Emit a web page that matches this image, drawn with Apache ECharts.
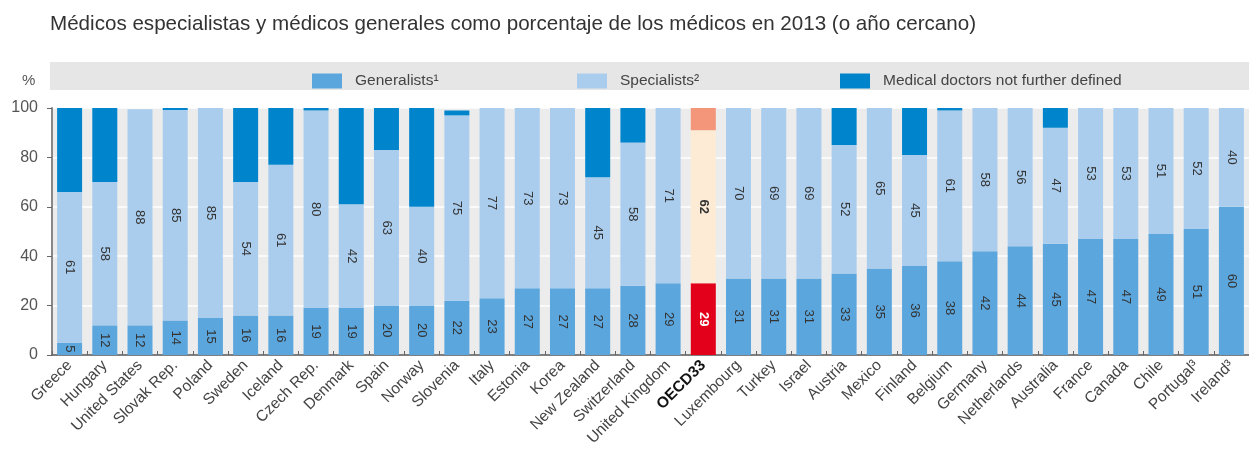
<!DOCTYPE html>
<html lang="es">
<head>
    <meta charset="UTF-8">
    <title>Médicos especialistas y médicos generales</title>
    <script src="https://cdn.jsdelivr.net/npm/echarts@6/dist/echarts.min.js"></script>
    <style>
        body { margin: 0; background: #fff; }
        #chart { width: 1249px; height: 455px; }
    </style>
</head>
<body>
    <div id="chart"></div>
    <script>
        // categorías (países) en el orden del gráfico
        var countries = ['Greece', 'Hungary', 'United States', 'Slovak Rep.', 'Poland', 'Sweden', 'Iceland',
            'Czech Rep.', 'Denmark', 'Spain', 'Norway', 'Slovenia', 'Italy', 'Estonia', 'Korea',
            'New Zealand', 'Switzerland', 'United Kingdom', 'OECD33', 'Luxembourg', 'Turkey', 'Israel',
            'Austria', 'Mexico', 'Finland', 'Belgium', 'Germany', 'Netherlands', 'Australia', 'France',
            'Canada', 'Chile', 'Portugal³', 'Ireland³'];
        // % de generalistas
        var generalists = [5, 12, 12, 14, 15, 16, 16, 19, 19, 20, 20, 22, 23, 27, 27, 27, 28, 29, 29, 31, 31, 31,
            33, 35, 36, 38, 42, 44, 45, 47, 47, 49, 51, 60];
        // % de especialistas
        var specialists = [61, 58, 87.5, 85.2, 85, 54, 61, 80, 42, 63, 40, 75, 77, 73, 73, 45, 58, 71, 62, 70, 69, 69,
            52, 65, 45, 61, 58, 56, 47, 53, 53, 51, 52, 40];
        // % médicos sin otra definición
        var notDefined = [34, 30, 0, 0.8, 0, 30, 23, 1, 39, 17, 40, 2, 0, 0, 0, 28, 14, 0, 9, 0, 0, 0,
            15, 0, 19, 1, 0, 0, 8, 0, 0, 0, 0, 0];
        var yTicks = [0, 20, 40, 60, 80, 100];

        var oecdName = 'OECD33';
        var oecdColors = { g: '#e2001a', s: '#fdebd6', n: '#f4967a' };

        function build(values, key) {
            return values.map(function (v, i) {
                var item = { value: v };
                if (countries[i] === oecdName) {
                    item.itemStyle = { color: oecdColors[key] };
                    if (key === 'g') item.label = { color: '#fff', fontWeight: 'bold' };
                    if (key === 's') item.label = { fontWeight: 'bold' };
                }
                return item;
            });
        }

        var narrow = "'Liberation Sans Narrow', 'Arial Narrow', 'Liberation Sans', sans-serif";

        var labelOpt = {
            show: true,
            position: 'inside',
            rotate: -90,
            fontSize: 13,
            fontFamily: narrow,
            color: '#333',
            formatter: function (p) { return Math.round(p.value); }
        };

        var chart = echarts.init(document.getElementById('chart'));
        var legendText = { fontSize: 15.5, color: '#444', fontFamily: narrow, padding: [0, 0, 0, 8] };
        var legendBase = { top: 68, itemWidth: 30, itemHeight: 15, icon: 'rect', textStyle: legendText };

        var option = {
            animation: false,
            title: {
                text: 'Médicos especialistas y médicos generales como porcentaje de los médicos en 2013 (o año cercano)',
                left: 45,
                top: 9,
                textStyle: { fontSize: 20.6, fontWeight: 'normal', color: '#333', fontFamily: "'Liberation Sans', Arial, sans-serif" }
            },
            graphic: [
                { type: 'rect', left: 50, top: 62, shape: { width: 1199, height: 28 }, style: { fill: '#e6e6e6' }, silent: true, z: -1 },
                { type: 'text', left: 22, top: 73, style: { text: '%', fontSize: 15, fill: '#555', fontFamily: narrow } }
            ],
            legend: [
                Object.assign({ data: ['Generalists¹'], left: 307 }, legendBase),
                Object.assign({ data: ['Specialists²'], left: 572 }, legendBase),
                Object.assign({ data: ['Medical doctors not further defined'], left: 835 }, legendBase)
            ],
            grid: { left: 52, right: -8, top: 108, bottom: 100, show: true, backgroundColor: '#ececec', borderWidth: 0 },
            xAxis: {
                type: 'category',
                data: countries,
                axisLine: { lineStyle: { color: '#555', width: 1.5 } },
                axisTick: { show: true, inside: true, length: 4, lineStyle: { color: '#666' } },
                axisLabel: {
                    rotate: 45,
                    fontSize: 15.5,
                    color: '#444',
                    margin: 8,
                    fontFamily: narrow,
                    formatter: function (v) { return v === oecdName ? '{b|' + v + '}' : v; },
                    rich: { b: { fontWeight: 'bold', color: '#111', fontSize: 15.5, fontFamily: narrow } }
                }
            },
            yAxis: {
                type: 'value',
                min: yTicks[0],
                max: yTicks[yTicks.length - 1],
                interval: 20,
                axisLine: { show: true, lineStyle: { color: '#888', width: 2 } },
                axisTick: { show: true, length: 5, lineStyle: { color: '#666' } },
                axisLabel: { fontSize: 16, color: '#555', margin: 14, fontFamily: narrow },
                splitLine: { lineStyle: { color: '#fff', width: 1.5 } }
            },
            series: [
                {
                    name: 'Generalists¹', type: 'bar', stack: 'all', barWidth: 25,
                    itemStyle: { color: '#5ba6dd' }, label: labelOpt,
                    data: build(generalists, 'g')
                },
                {
                    name: 'Specialists²', type: 'bar', stack: 'all', barWidth: 25,
                    itemStyle: { color: '#aacdee' }, label: labelOpt,
                    data: build(specialists, 's')
                },
                {
                    name: 'Medical doctors not further defined', type: 'bar', stack: 'all', barWidth: 25,
                    itemStyle: { color: '#0085cc' },
                    data: build(notDefined, 'n')
                }
            ]
        };
        chart.setOption(option);
    </script>
</body>
</html>
